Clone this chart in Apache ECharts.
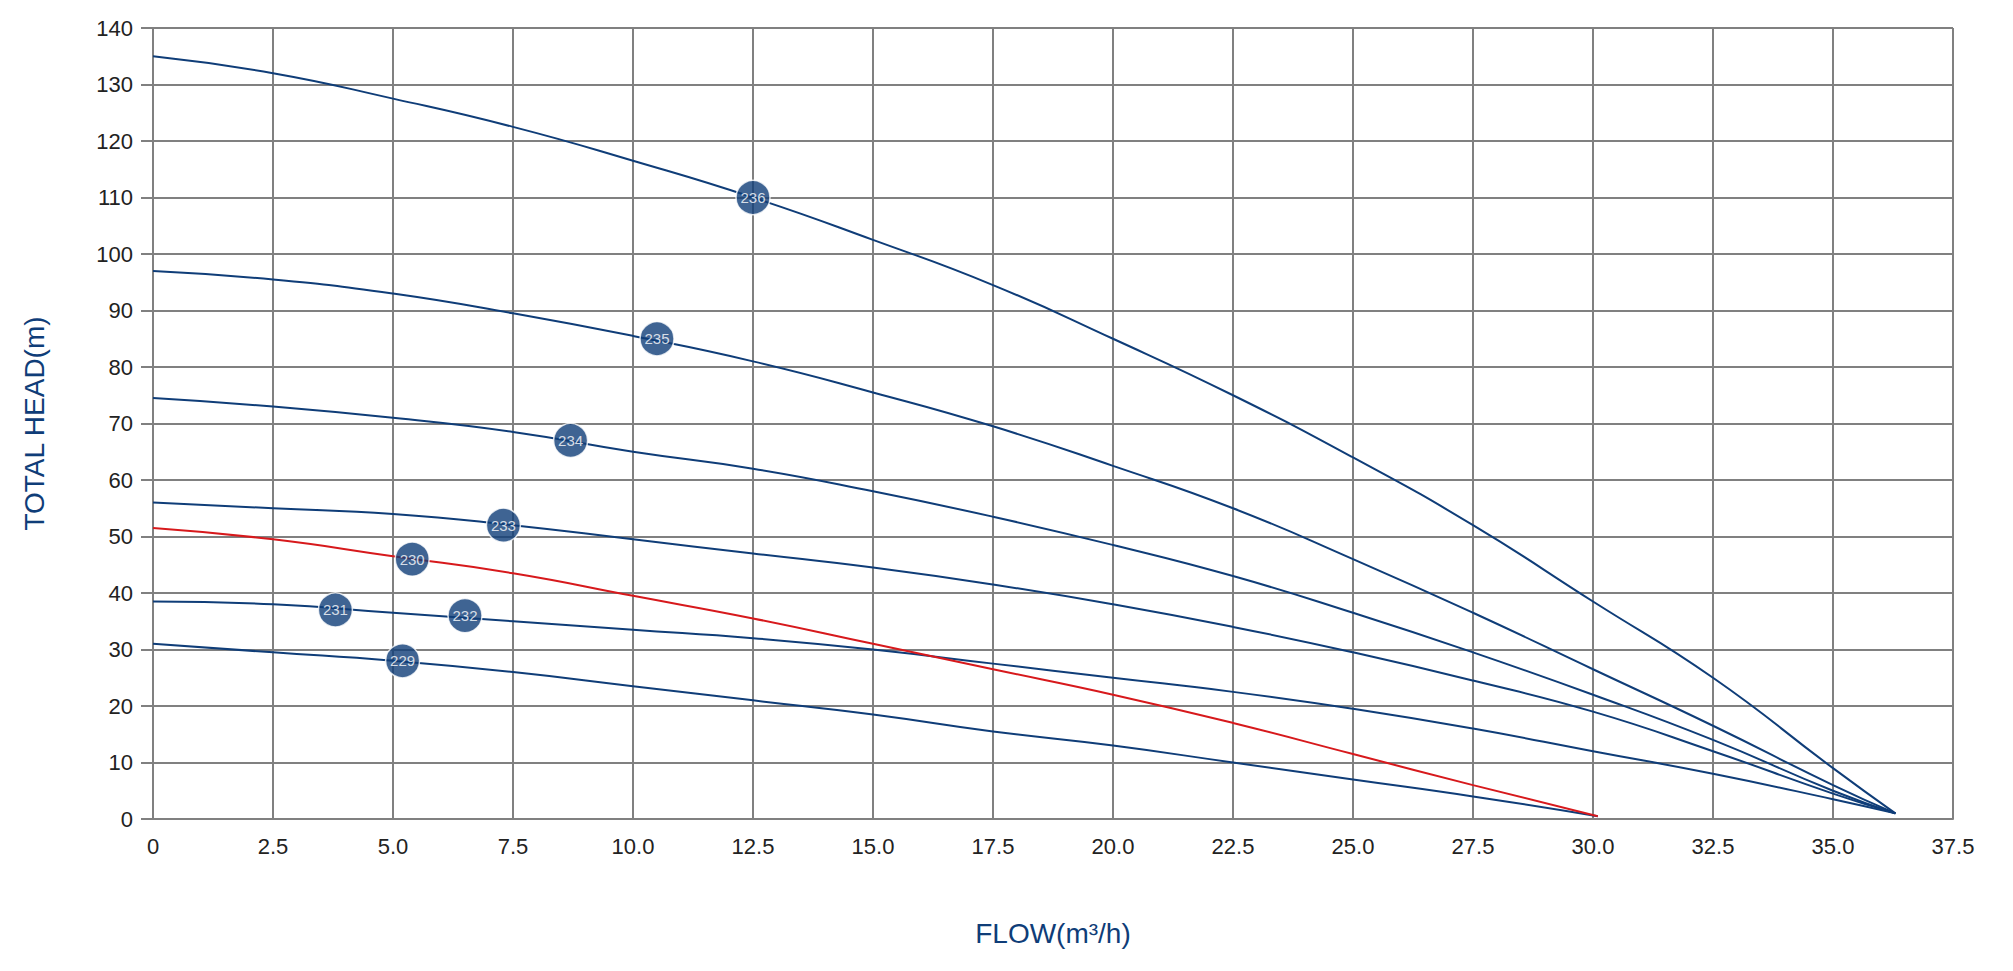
<!DOCTYPE html>
<html lang="en" style="height: 100%">
<head>
    <meta charset="UTF-8">
    <title>Pump Curves</title>
    <script src="https://cdn.jsdelivr.net/npm/echarts@6/dist/echarts.min.js"></script>
</head>
<body style="height: 100%; margin: 0; background: #fff">
<div id="container" style="height: 100%"></div>
<script type="text/javascript">
    var flow = [0, 2.5, 5, 7.5, 10, 12.5, 15, 17.5, 20, 22.5, 25, 27.5, 30, 32.5, 35, 36.3];
    var head236 = [135, 132, 127.5, 122.5, 116.5, 110, 102.5, 94.5, 85, 75, 64, 52, 38.5, 25, 9, 1];
    var head235 = [97, 95.5, 93, 89.5, 85.5, 81, 75.5, 69.5, 62.5, 55, 46, 36.5, 26.5, 16.5, 6, 1];
    var head234 = [74.5, 73, 71, 68.5, 65, 62, 58, 53.5, 48.5, 43, 36.5, 29.5, 22, 14, 5, 1];
    var head233 = [56, 55, 54, 52, 49.5, 47, 44.5, 41.5, 38, 34, 29.5, 24.5, 19, 12, 4.5, 1];
    var head232 = [38.5, 38, 36.5, 35, 33.5, 32, 30, 27.5, 25, 22.5, 19.5, 16, 12, 8, 3.5, 1];
    var flowShort = [0, 2.5, 5, 7.5, 10, 12.5, 15, 17.5, 20, 22.5, 25, 27.5, 30.1];
    var head230 = [51.5, 49.5, 46.5, 43.5, 39.5, 35.5, 31, 26.5, 22, 17, 11.5, 6, 0.5];
    var head229 = [31, 29.5, 28, 26, 23.5, 21, 18.5, 15.5, 13, 10, 7, 4, 0.5];
    var markers = [
        ['236', 12.5, 110], ['235', 10.5, 85], ['234', 8.7, 67], ['233', 7.3, 52],
        ['230', 5.4, 46], ['231', 3.8, 37], ['232', 6.5, 36], ['229', 5.2, 28]
    ];

    var blue = '#0f3d78';
    function zip(xs, ys) { return xs.map(function (x, i) { return [x, ys[i]]; }); }
    function curve(xs, ys, color) {
        return {type: 'line', smooth: true, showSymbol: false, data: zip(xs, ys),
            lineStyle: {color: color, width: 2}, z: 2};
    }

    var myChart = echarts.init(document.getElementById('container'), null, {renderer: 'svg'});
    var gridLine = {show: true, lineStyle: {color: '#808080', width: 2}};
    var option = {
        animation: false,
        grid: {left: 153, right: 60, top: 28, bottom: 152},
        xAxis: {
            type: 'value', min: 0, max: 37.5, interval: 2.5,
            name: 'FLOW(m³/h)', nameLocation: 'middle', nameGap: 100,
            nameTextStyle: {color: blue, fontSize: 28, fontFamily: 'Arial'},
            axisLine: {lineStyle: {color: '#808080', width: 2}},
            axisTick: {show: false},
            axisLabel: {color: '#222', fontSize: 22, margin: 16, fontFamily: 'Arial',
                formatter: function (v) { return v === 0 ? '0' : v.toFixed(1); }},
            splitLine: gridLine
        },
        yAxis: {
            type: 'value', min: 0, max: 140, interval: 10,
            name: 'TOTAL HEAD(m)', nameLocation: 'middle', nameGap: 105,
            nameTextStyle: {color: blue, fontSize: 28, fontFamily: 'Arial'},
            axisLine: {show: true, lineStyle: {color: '#808080', width: 2}},
            axisTick: {show: true, length: 12, inside: false, lineStyle: {color: '#808080', width: 2}},
            axisLabel: {color: '#222', fontSize: 22, margin: 20, fontFamily: 'Arial'},
            splitLine: gridLine
        },
        series: [
            curve(flow, head236, blue), curve(flow, head235, blue), curve(flow, head234, blue),
            curve(flow, head233, blue), curve(flow, head232, blue),
            curve(flowShort, head229, blue), curve(flowShort, head230, '#d7191c'),
            {
                type: 'scatter', symbolSize: 34, z: 5,
                itemStyle: {color: blue, borderColor: '#fff', borderWidth: 1.5},
                data: markers.map(function (m) { return {name: m[0], value: [m[1], m[2]]}; }),
                label: {show: true, position: 'inside', formatter: '{b}', color: '#fff',
                    fontSize: 15, fontFamily: 'Arial', letterSpacing: -1}
            }
        ]
    };
    myChart.setOption(option, true);
</script>
</body>
</html>
